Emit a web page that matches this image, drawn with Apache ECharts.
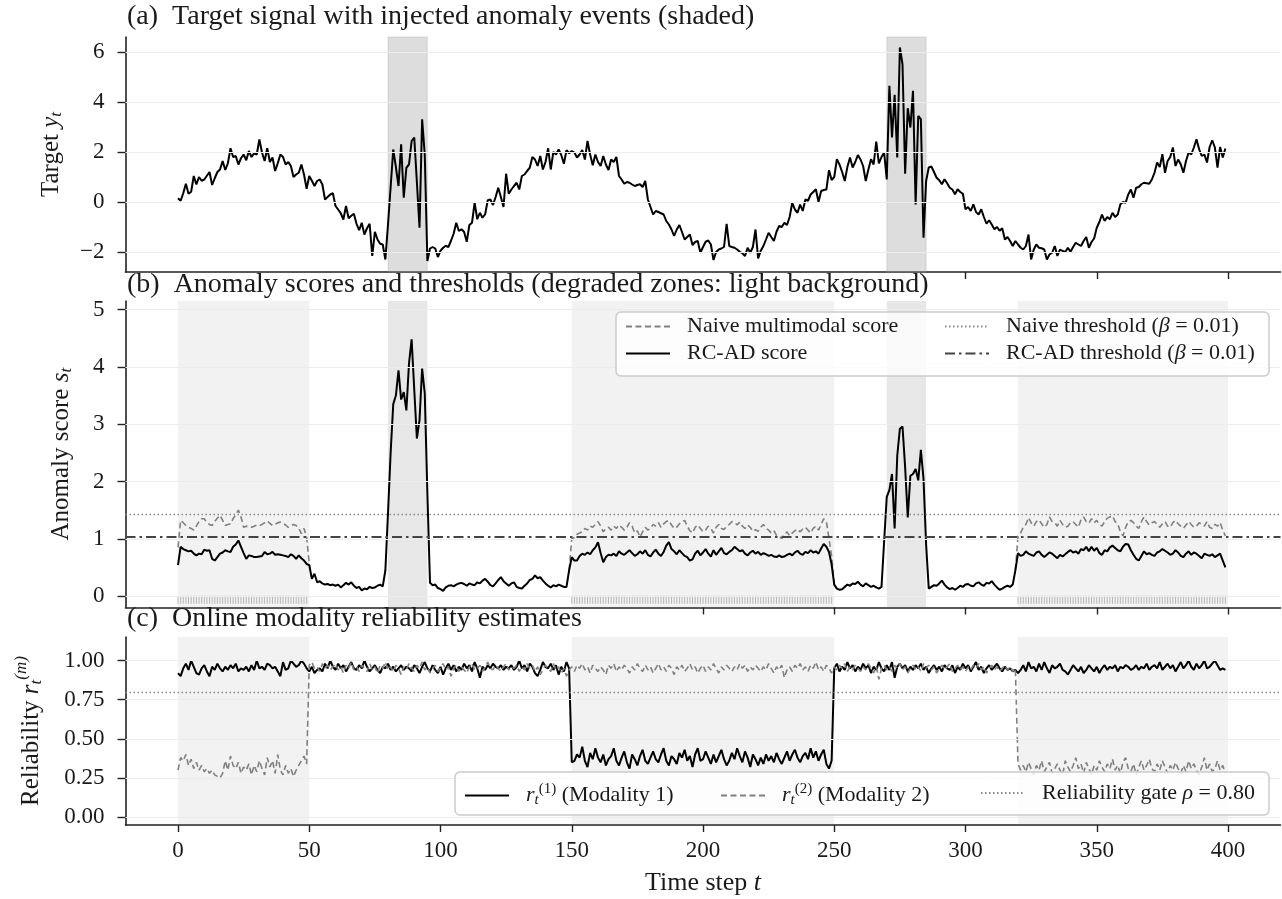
<!DOCTYPE html>
<html>
<head>
<meta charset="utf-8">
<title>RC-AD anomaly detection</title>
<script src="https://cdn.jsdelivr.net/npm/echarts@6/dist/echarts.min.js"></script>
<style>
html, body { margin: 0; padding: 0; background: #fff; }
#chart { width: 1282px; height: 899px; }
</style>
</head>
<body>
<div id="chart"></div>
<script>
// ---- data (t = 0..399) ----
const X_TICKS = [0, 50, 100, 150, 200, 250, 300, 350, 400];
// ticks of the upper panels that are not hidden under the next panel's title
const X_TICKS_A = [300, 350, 400];
const X_TICKS_B = [200, 250, 300, 350, 400];
const Y_TICKS_A = [-2, 0, 2, 4, 6];
const Y_TICKS_B = [0, 1, 2, 3, 4, 5];
const Y_TICKS_C = [0, 0.25, 0.5, 0.75, 1.0];

const ANOMALY_ZONES = [[80, 95], [270, 285]];
const DEGRADED_ZONES = [[0, 50], [150, 250], [320, 400]];

const NAIVE_THRESHOLD = 1.42;
const RCAD_THRESHOLD = 1.03;
const RELIABILITY_GATE = 0.80;
const RUG_LEVEL = -0.065;

const TARGET = [
  0.15, 0.05, 0.35, 0.73, 0.33, 0.41, 1.04, 0.70, 1.00, 0.85,
  0.90, 1.05, 1.20, 0.68, 0.95, 1.20, 1.30, 1.64, 1.28, 1.55,
  2.15, 1.80, 1.84, 1.50, 1.75, 1.90, 1.67, 2.04, 1.80, 1.95,
  1.90, 2.50, 1.98, 1.64, 2.15, 1.60, 1.78, 1.24, 1.55, 1.90,
  1.80, 1.50, 1.60, 1.44, 1.00, 1.10, 1.17, 1.50, 1.10, 0.53,
  1.04, 0.85, 0.64, 0.84, 0.90, 0.70, 0.10, 0.20, 0.30, 0.35,
  -0.16, -0.30, -0.45, -0.70, -0.16, -0.65, -0.55, -0.47, -0.87, -1.13,
  -0.83, -1.30, -1.05, -0.87, -2.16, -1.19, -1.50, -1.67, -1.70, -2.30,
  -0.90, 0.60, 2.10, 1.40, 0.64, 2.31, 0.17, 1.37, 1.50, 2.44,
  2.58, 0.80, -1.03, 3.31, 1.90, -2.36, -1.86, -1.80, -1.86, -2.20,
  -1.95, -1.83, -1.75, -1.80, -1.55, -1.27, -0.83, -1.16, -1.09, -1.20,
  -1.59, -0.92, -0.83, -0.03, -0.69, -0.43, -0.63, -0.49, 0.07, 0.10,
  -0.12, 0.20, 0.57, 0.20, -0.20, 1.13, 0.33, 0.50, 0.64, 0.77,
  0.50, 1.04, 1.10, 1.24, 1.37, 1.80, 1.70, 1.44, 1.84, 1.30,
  1.60, 2.15, 1.30, 2.00, 1.90, 2.10, 1.88, 1.53, 2.07, 1.95,
  2.04, 1.98, 1.78, 1.90, 2.08, 1.70, 2.44, 1.90, 1.47, 1.90,
  1.60, 1.44, 1.84, 1.50, 1.28, 1.70, 1.60, 1.80, 1.04, 0.90,
  0.73, 0.80, 0.77, 0.70, 0.64, 0.68, 0.71, 0.60, 0.84, 0.10,
  -0.20, -0.50, -0.36, -0.40, -0.45, -0.50, -0.76, -0.90, -1.10, -1.36,
  -1.10, -0.92, -1.20, -1.50, -1.40, -1.30, -1.72, -1.60, -1.56, -2.03,
  -1.80, -1.59, -1.54, -1.70, -2.32, -2.00, -1.90, -1.86, -1.80, -0.87,
  -1.76, -1.80, -1.83, -1.90, -1.99, -2.05, -2.16, -1.83, -2.03, -1.80,
  -1.10, -2.26, -1.95, -1.76, -1.50, -1.23, -1.40, -1.56, -1.19, -0.96,
  -1.00, -0.83, -0.92, -0.60, -0.03, -0.30, -0.43, -0.10, -0.36, 0.10,
  0.05, 0.30, 0.40, 0.51, 0.00, 0.44, 0.48, 0.50, 1.27, 0.88,
  1.00, 1.71, 1.50, 1.20, 0.84, 1.40, 1.78, 1.38, 1.60, 1.88,
  1.70, 1.44, 0.84, 1.30, 1.71, 1.50, 2.42, 1.54, 1.80, 1.98,
  0.90, 4.65, 2.58, 4.29, 1.78, 6.18, 5.51, 1.13, 3.75, 2.98,
  4.45, -0.10, 3.44, 3.31, -1.43, 0.84, 1.38, 1.42, 1.20, 0.97,
  0.87, 0.71, 0.91, 0.75, 0.57, 0.50, 0.31, 0.51, 0.40, 0.33,
  -0.29, -0.20, -0.36, -0.09, -0.40, -0.50, -0.29, -0.60, -0.87, -0.73,
  -0.90, -1.09, -1.00, -1.15, -1.05, -1.50, -1.40, -1.56, -1.76, -1.56,
  -1.70, -1.83, -1.90, -1.76, -1.30, -2.30, -1.90, -1.70, -1.83, -1.85,
  -1.90, -2.30, -2.10, -2.03, -1.76, -2.16, -1.90, -1.96, -2.00, -1.83,
  -1.99, -1.80, -1.63, -1.70, -1.76, -1.56, -1.40, -1.83, -1.60, -1.46,
  -1.03, -0.80, -0.50, -0.76, -0.60, -0.69, -0.43, -0.60, -0.50, -0.09,
  0.00, -0.03, 0.30, 0.50, 0.17, 0.57, 0.60, 0.71, 0.77, 0.75,
  0.73, 0.90, 1.17, 1.58, 1.40, 1.91, 1.17, 1.64, 1.80, 2.18,
  1.44, 1.70, 1.51, 1.17, 1.64, 1.98, 1.90, 2.18, 2.51, 2.11,
  1.84, 1.90, 1.58, 2.20, 2.47, 2.18, 1.38, 2.20, 1.78, 2.14
];

const RCAD_SCORE = [
  0.54, 0.86, 0.82, 0.80, 0.78, 0.79, 0.74, 0.71, 0.74, 0.73,
  0.81, 0.79, 0.80, 0.65, 0.62, 0.68, 0.74, 0.76, 0.80, 0.78,
  0.77, 0.86, 0.90, 0.97, 0.86, 0.75, 0.65, 0.71, 0.70, 0.68,
  0.68, 0.69, 0.70, 0.77, 0.73, 0.74, 0.77, 0.72, 0.73, 0.72,
  0.71, 0.70, 0.68, 0.73, 0.70, 0.65, 0.71, 0.66, 0.62, 0.56,
  0.54, 0.30, 0.39, 0.24, 0.26, 0.22, 0.20, 0.21, 0.19, 0.20,
  0.18, 0.20, 0.15, 0.19, 0.23, 0.20, 0.24, 0.18, 0.14, 0.16,
  0.10, 0.13, 0.12, 0.16, 0.14, 0.15, 0.18, 0.20, 0.17, 0.45,
  1.45, 2.50, 3.35, 3.50, 3.94, 3.43, 3.56, 3.24, 4.06, 4.48,
  3.60, 2.75, 3.07, 3.97, 3.54, 1.80, 0.23, 0.19, 0.20, 0.14,
  0.12, 0.09, 0.15, 0.18, 0.19, 0.17, 0.20, 0.22, 0.23, 0.21,
  0.18, 0.22, 0.20, 0.19, 0.24, 0.22, 0.27, 0.30, 0.25, 0.19,
  0.17, 0.22, 0.28, 0.33, 0.26, 0.22, 0.18, 0.22, 0.24, 0.16,
  0.14, 0.13, 0.18, 0.22, 0.28, 0.30, 0.36, 0.31, 0.33, 0.27,
  0.22, 0.18, 0.15, 0.19, 0.17, 0.20, 0.18, 0.16, 0.16, 0.45,
  0.68, 0.62, 0.62, 0.70, 0.74, 0.72, 0.76, 0.73, 0.80, 0.85,
  0.94, 0.75, 0.59, 0.68, 0.72, 0.71, 0.74, 0.70, 0.78, 0.74,
  0.72, 0.76, 0.80, 0.75, 0.70, 0.73, 0.78, 0.74, 0.80, 0.72,
  0.69, 0.76, 0.81, 0.74, 0.70, 0.77, 0.88, 0.94, 0.82, 0.78,
  0.73, 0.80, 0.75, 0.70, 0.68, 0.62, 0.64, 0.74, 0.79, 0.71,
  0.76, 0.82, 0.74, 0.69, 0.80, 0.72, 0.78, 0.84, 0.75, 0.73,
  0.77, 0.80, 0.86, 0.82, 0.78, 0.80, 0.74, 0.71, 0.76, 0.79,
  0.74, 0.77, 0.72, 0.75, 0.73, 0.70, 0.72, 0.69, 0.68, 0.71,
  0.68, 0.69, 0.72, 0.74, 0.71, 0.76, 0.79, 0.74, 0.72, 0.77,
  0.75, 0.80, 0.76, 0.78, 0.74, 0.83, 0.91, 0.86, 0.77, 0.55,
  0.20, 0.13, 0.11, 0.12, 0.16, 0.20, 0.18, 0.22, 0.21, 0.25,
  0.20, 0.17, 0.22, 0.19, 0.16, 0.18, 0.15, 0.13, 0.16, 0.95,
  1.73, 1.85, 2.13, 1.18, 2.45, 2.92, 2.96, 2.25, 1.37, 2.10,
  2.13, 2.22, 2.02, 2.55, 2.05, 0.90, 0.13, 0.16, 0.19, 0.18,
  0.22, 0.27, 0.20, 0.15, 0.12, 0.14, 0.11, 0.14, 0.18, 0.16,
  0.20, 0.21, 0.18, 0.17, 0.22, 0.24, 0.20, 0.18, 0.23, 0.22,
  0.26, 0.20, 0.15, 0.11, 0.13, 0.16, 0.18, 0.16, 0.20, 0.45,
  0.75, 0.70, 0.72, 0.78, 0.74, 0.72, 0.70, 0.76, 0.78, 0.72,
  0.68, 0.72, 0.76, 0.74, 0.70, 0.66, 0.72, 0.69, 0.73, 0.77,
  0.80, 0.76, 0.78, 0.74, 0.82, 0.80, 0.86, 0.78, 0.86, 0.79,
  0.84, 0.75, 0.72, 0.80, 0.78, 0.85, 0.88, 0.84, 0.80, 0.78,
  0.86, 0.91, 0.90, 0.80, 0.72, 0.65, 0.62, 0.70, 0.78, 0.73,
  0.75, 0.72, 0.70, 0.76, 0.78, 0.82, 0.79, 0.76, 0.72, 0.74,
  0.80, 0.76, 0.70, 0.68, 0.74, 0.78, 0.72, 0.76, 0.74, 0.70,
  0.66, 0.74, 0.72, 0.70, 0.73, 0.68, 0.71, 0.74, 0.62, 0.50
];

// naive score only differs from RC-AD inside degraded zones (elsewhere hidden under it)
const NAIVE_SEG_STARTS = [0, 149, 319];
const NAIVE_SEG_1 = [
  0.85, 1.32, 1.28, 1.23, 1.20, 1.18, 1.15, 1.22, 1.30, 1.35,
  1.35, 1.28, 1.25, 1.23, 1.30, 1.36, 1.41, 1.32, 1.23, 1.25,
  1.26, 1.35, 1.42, 1.50, 1.38, 1.20, 1.22, 1.21, 1.20, 1.22,
  1.24, 1.23, 1.25, 1.28, 1.31, 1.27, 1.23, 1.25, 1.28, 1.29,
  1.27, 1.24, 1.20, 1.22, 1.25, 1.23, 1.18, 1.09, 1.18, 1.03,
  0.57, 0.30
];
const NAIVE_SEG_2 = [
  0.45,
  1.00, 1.02, 1.08, 1.10, 1.12, 1.18, 1.15, 1.22, 1.20, 1.25,
  1.30, 1.22, 1.12, 1.18, 1.20, 1.15, 1.22, 1.18, 1.24, 1.20,
  1.15, 1.20, 1.28, 1.22, 1.10, 1.14, 1.03, 1.12, 1.20, 1.15,
  1.18, 1.25, 1.22, 1.28, 1.20, 1.26, 1.30, 1.32, 1.24, 1.18,
  1.20, 1.26, 1.30, 1.32, 1.22, 1.14, 1.10, 1.20, 1.24, 1.18,
  1.12, 1.15, 1.22, 1.18, 1.10, 1.20, 1.25, 1.18, 1.16, 1.22,
  1.25, 1.30, 1.29, 1.24, 1.29, 1.22, 1.18, 1.24, 1.20, 1.13,
  1.16, 1.13, 1.20, 1.25, 1.18, 1.15, 1.10, 1.14, 1.06, 1.05,
  1.00, 1.08, 1.12, 1.05, 1.10, 1.14, 1.17, 1.12, 1.17, 1.20,
  1.15, 1.10, 1.18, 1.22, 1.15, 1.25, 1.35, 1.30, 1.00, 0.70,
  0.20, 0.13
];
const NAIVE_SEG_3 = [
  0.45,
  1.05, 1.10, 1.20, 1.25, 1.37, 1.28, 1.22, 1.30, 1.33, 1.26,
  1.20, 1.25, 1.38, 1.30, 1.28, 1.22, 1.32, 1.25, 1.20, 1.22,
  1.28, 1.30, 1.25, 1.20, 1.33, 1.38, 1.30, 1.27, 1.35, 1.28,
  1.32, 1.25, 1.22, 1.30, 1.36, 1.38, 1.40, 1.30, 1.26, 1.12,
  1.05, 1.20, 1.30, 1.32, 1.28, 1.22, 1.18, 1.30, 1.38, 1.30,
  1.24, 1.28, 1.30, 1.25, 1.20, 1.26, 1.30, 1.22, 1.20, 1.28,
  1.32, 1.26, 1.22, 1.18, 1.24, 1.30, 1.25, 1.20, 1.22, 1.28,
  1.25, 1.22, 1.30, 1.20, 1.18, 1.25, 1.22, 1.28, 1.15, 1.05
];

const RELIABILITY_M1 = [
  0.92, 0.90, 0.95, 0.98, 0.94, 1.00, 0.96, 0.92, 0.91, 0.95,
  0.97, 0.93, 0.90, 0.96, 0.94, 0.98, 0.95, 0.93, 0.96, 0.94,
  0.97, 0.95, 0.98, 0.93, 0.95, 0.94, 0.96, 0.93, 0.97, 0.94,
  1.00, 0.95, 0.96, 0.94, 0.98, 0.97, 0.95, 0.96, 0.93, 0.90,
  0.99, 0.94, 0.95, 1.00, 0.98, 0.96, 0.97, 1.00, 0.98, 0.95,
  0.93, 0.96, 0.92, 0.94, 0.95, 0.93, 0.98, 0.95, 1.00, 0.96,
  0.94, 0.98, 0.95, 0.97, 0.93, 0.96, 0.99, 0.95, 0.94, 0.97,
  0.95, 1.00, 0.96, 0.93, 0.95, 0.97, 0.94, 0.92, 0.96, 0.95,
  0.98, 0.94, 0.96, 0.93, 0.95, 0.97, 0.94, 0.96, 0.95, 0.93,
  0.97, 0.95, 0.92, 0.96, 0.99, 0.95, 0.93, 0.97, 0.94, 0.92,
  0.96, 0.91, 0.95, 0.98, 0.94, 0.97, 0.93, 0.96, 0.94, 0.98,
  0.95, 0.97, 0.93, 0.99, 0.95, 0.89, 0.96, 0.94, 0.97, 0.95,
  0.98, 0.96, 0.95, 0.97, 0.94, 0.96, 0.95, 0.97, 0.94, 0.96,
  1.00, 0.95, 0.97, 0.93, 0.98, 0.96, 0.92, 0.90, 0.94, 0.99,
  0.96, 0.95, 0.98, 0.94, 0.97, 0.91, 0.96, 0.93, 0.99, 0.95,
  0.35, 0.36, 0.40, 0.38, 0.45, 0.36, 0.32, 0.41, 0.37, 0.44,
  0.38, 0.35, 0.40, 0.33, 0.37, 0.39, 0.44, 0.36, 0.33, 0.38,
  0.42, 0.35, 0.31, 0.40, 0.37, 0.33, 0.39, 0.43, 0.36, 0.34,
  0.38, 0.42, 0.37, 0.35, 0.40, 0.44, 0.36, 0.33, 0.39, 0.37,
  0.34, 0.41, 0.38, 0.43, 0.36, 0.39, 0.32, 0.40, 0.44, 0.36,
  0.37, 0.42, 0.38, 0.34, 0.40, 0.35, 0.39, 0.43, 0.37, 0.33,
  0.36, 0.41, 0.37, 0.44, 0.39, 0.35, 0.42, 0.38, 0.32, 0.40,
  0.37, 0.33, 0.38, 0.34, 0.40, 0.36, 0.39, 0.35, 0.41, 0.37,
  0.34, 0.38, 0.42, 0.36, 0.40, 0.43, 0.38, 0.35, 0.39, 0.41,
  0.37, 0.44, 0.38, 0.42, 0.36, 0.40, 0.43, 0.34, 0.31, 0.36,
  0.95, 0.98, 0.93, 0.96, 0.94, 0.99, 0.95, 0.97, 0.93, 0.96,
  0.94, 0.98, 0.95, 0.97, 0.92, 0.96, 0.94, 0.99, 0.95, 0.93,
  0.97, 0.94, 0.99, 0.89, 0.96, 0.98, 0.95, 0.97, 0.93, 0.96,
  0.94, 0.97, 0.95, 0.98, 0.94, 0.96, 0.92, 0.95, 0.97, 0.94,
  0.96, 0.93, 0.97, 0.95, 0.94, 0.97, 0.92, 0.96, 0.94, 0.98,
  0.95, 0.97, 0.93, 0.96, 0.99, 0.94, 0.96, 0.92, 0.95, 0.97,
  0.94, 0.96, 0.98, 0.95, 0.93, 0.96, 0.94, 0.95, 0.93, 0.94,
  0.92, 0.94, 0.97, 0.93, 0.99, 0.95, 0.96, 0.93, 0.98, 0.94,
  0.99, 0.95, 0.92, 0.97, 0.95, 0.96, 0.98, 0.94, 0.93, 0.91,
  0.94, 0.97, 0.95, 0.93, 0.96, 0.92, 0.94, 0.97, 0.95, 0.93,
  0.96, 0.92, 0.95, 0.97, 0.94, 0.96, 0.95, 0.97, 0.93, 0.96,
  0.95, 0.97, 0.96, 0.94, 0.95, 0.97, 0.94, 0.96, 0.95, 0.98,
  0.94, 0.96, 0.97, 0.95, 0.99, 0.94, 0.96, 0.98, 0.95, 0.97,
  0.93, 0.96, 0.99, 0.95, 0.97, 1.00, 0.96, 0.94, 0.98, 0.95,
  0.97, 1.00, 0.95, 0.96, 0.98, 1.00, 0.97, 0.94, 0.95, 0.94
];

const RELIABILITY_M2 = [
  0.30, 0.38, 0.36, 0.40, 0.33, 0.37, 0.31, 0.35, 0.30, 0.33,
  0.29, 0.31, 0.28, 0.30, 0.27, 0.26, 0.25, 0.28, 0.36, 0.30,
  0.39, 0.33, 0.31, 0.35, 0.28, 0.32, 0.30, 0.34, 0.27, 0.33,
  0.29, 0.36, 0.31, 0.27, 0.38, 0.32, 0.36, 0.28, 0.40, 0.30,
  0.27, 0.33, 0.28, 0.31, 0.26, 0.30, 0.33, 0.36, 0.39, 0.34,
  0.97, 0.99, 0.95, 0.96, 0.93, 0.98, 0.95, 0.97, 0.94, 0.96,
  0.98, 0.94, 0.96, 0.92, 0.97, 0.95, 0.99, 0.94, 0.96, 0.93,
  0.97, 0.95, 0.93, 0.98, 0.94, 0.96, 0.92, 0.97, 0.95, 0.99,
  0.94, 0.96, 0.93, 0.97, 0.95, 0.91, 0.96, 0.94, 0.98, 0.95,
  0.93, 0.97, 0.95, 0.99, 0.94, 0.96, 0.92, 0.95, 0.97, 0.93,
  0.95, 0.98, 0.94, 0.96, 0.90, 0.95, 0.97, 0.93, 0.96, 0.94,
  0.92, 0.96, 0.98, 0.94, 0.95, 0.97, 0.93, 0.96, 0.99, 0.95,
  0.94, 0.97, 0.95, 0.93, 0.96, 0.98, 0.94, 0.96, 0.95, 0.97,
  0.93, 0.96, 0.94, 0.98, 0.95, 0.97, 0.93, 0.96, 0.91, 0.94,
  0.97, 0.95, 0.93, 0.98, 0.94, 0.96, 0.92, 0.95, 0.90, 0.94,
  0.96, 0.93, 0.97, 0.95, 0.98, 0.94, 0.96, 0.92, 0.97, 0.95,
  0.93, 0.96, 0.94, 0.91, 0.97, 0.95, 0.98, 0.93, 0.96, 0.94,
  0.97, 0.95, 0.92, 0.96, 0.94, 0.98, 0.95, 0.93, 0.97, 0.94,
  0.96, 0.92, 0.95, 0.98, 0.94, 0.96, 0.93, 0.97, 0.95, 0.91,
  0.96, 0.94, 0.97, 0.93, 0.95, 0.98, 0.94, 0.96, 0.92, 0.95,
  0.97, 0.93, 0.96, 0.94, 0.98, 0.95, 0.92, 0.96, 0.94, 0.97,
  0.95, 0.93, 0.96, 0.94, 0.98, 0.95, 0.97, 0.93, 0.96, 0.94,
  0.97, 0.95, 0.93, 0.96, 0.94, 0.98, 0.95, 0.92, 0.96, 0.94,
  0.97, 0.89, 0.94, 0.96, 0.93, 0.97, 0.95, 0.98, 0.94, 0.96,
  0.93, 0.97, 0.95, 0.99, 0.94, 0.96, 0.93, 0.97, 0.95, 0.92,
  0.96, 0.94, 0.97, 0.95, 0.98, 0.93, 0.96, 0.94, 0.97, 0.95,
  0.93, 0.96, 0.94, 0.98, 0.95, 0.92, 0.96, 0.88, 0.95, 0.97,
  0.94, 0.96, 0.93, 0.97, 0.95, 0.98, 0.94, 0.96, 0.92, 0.95,
  0.97, 0.94, 0.96, 0.93, 0.98, 0.95, 0.97, 0.94, 0.96, 0.92,
  0.95, 0.97, 0.94, 0.96, 0.98, 0.93, 0.95, 0.97, 0.94, 0.96,
  0.93, 0.96, 0.94, 0.97, 0.95, 0.98, 0.94, 0.96, 0.92, 0.95,
  0.97, 0.94, 0.96, 0.93, 0.95, 0.97, 0.94, 0.96, 0.93, 0.95,
  0.34, 0.30, 0.33, 0.29, 0.35, 0.31, 0.27, 0.33, 0.30, 0.36,
  0.29, 0.32, 0.35, 0.28, 0.31, 0.34, 0.30, 0.27, 0.36, 0.32,
  0.29, 0.33, 0.38, 0.31, 0.34, 0.28, 0.35, 0.31, 0.27, 0.33,
  0.30, 0.36, 0.32, 0.29, 0.34, 0.31, 0.37, 0.30, 0.33, 0.28,
  0.35, 0.38, 0.31, 0.29, 0.34, 0.27, 0.32, 0.36, 0.30, 0.33,
  0.37, 0.31, 0.29, 0.34, 0.30, 0.36, 0.32, 0.28, 0.33, 0.30,
  0.35, 0.31, 0.28, 0.33, 0.29, 0.36, 0.31, 0.34, 0.30, 0.27,
  0.32, 0.38, 0.30, 0.34, 0.29, 0.31, 0.36, 0.30, 0.33, 0.28
];

// ---- styling ----
const FONT = 'Liberation Serif';
const INK = '#1a1a1a';
const GRAY = '#808080';
const X_MIN = -20, X_MAX = 420;

function pairs(values, start) {
  return values.map((v, i) => [start + i, v]);
}

function naiveData() {
  const segs = [NAIVE_SEG_1, NAIVE_SEG_2, NAIVE_SEG_3];
  let out = [];
  segs.forEach((seg, k) => {
    if (k > 0) out.push([NAIVE_SEG_STARTS[k] - 0.5, null]);
    out = out.concat(pairs(seg, NAIVE_SEG_STARTS[k]));
  });
  return out;
}

function rugData() {
  const out = [];
  DEGRADED_ZONES.forEach(z => {
    for (let t = z[0]; t < z[1]; t++) out.push([t, RUG_LEVEL]);
  });
  return out;
}

function zoneAreas(zones, color) {
  return zones.map(z => [{ xAxis: z[0], itemStyle: { color: color } }, { xAxis: z[1] }]);
}

function gridLines(ticks) {
  return {
    silent: true, symbol: ['none', 'none'], label: { show: false },
    lineStyle: { color: '#ececec', width: 1, type: 'solid' },
    data: ticks.map(v => ({ yAxis: v }))
  };
}

function xAxisFor(i, ticks) {
  return {
    type: 'value', gridIndex: i, min: X_MIN, max: X_MAX,
    axisLine: { show: true, onZero: false, lineStyle: { color: '#222', width: 1.6 } },
    axisTick: { show: true, customValues: ticks, length: 7, lineStyle: { color: '#222', width: 1.4 } },
    axisLabel: {
      show: i === 2, customValues: ticks, margin: 14,
      fontFamily: FONT, fontSize: 23, color: INK
    },
    splitLine: { show: false },
    name: i === 2 ? 'Time step {i|t}' : '',
    nameLocation: 'middle', nameGap: 45,
    nameTextStyle: {
      fontFamily: FONT, fontSize: 26, color: INK,
      rich: { i: { fontFamily: FONT, fontSize: 26, fontStyle: 'italic', color: INK } }
    }
  };
}

const NAME_RICH = {
  i: { fontFamily: FONT, fontSize: 25, fontStyle: 'italic', color: INK },
  sub: { fontFamily: FONT, fontSize: 17, fontStyle: 'italic', color: INK, padding: [12, 0, 0, 0] },
  sup: { fontFamily: FONT, fontSize: 17, fontStyle: 'italic', color: INK, padding: [0, 0, 18, 0] }
};

function yAxisFor(i, min, max, ticks, fmt, name, gap) {
  return {
    type: 'value', gridIndex: i, min: min, max: max,
    axisLine: { show: true, onZero: false, lineStyle: { color: '#222', width: 1.6 } },
    axisTick: { show: true, customValues: ticks, length: 8, lineStyle: { color: '#222', width: 1.4 } },
    axisLabel: { customValues: ticks, formatter: fmt, margin: 21, fontFamily: FONT, fontSize: 23, color: INK },
    splitLine: { show: false },
    name: name, nameLocation: 'middle', nameRotate: 90, nameGap: gap,
    nameTextStyle: { fontFamily: FONT, fontSize: 25, color: INK, rich: NAME_RICH }
  };
}

const fmtSigned = v => (v < 0 ? '\u2212' + Math.abs(v) : String(v));
const fmtFixed = v => v.toFixed(2);

const LEGEND_RICH = {
  i: { fontFamily: FONT, fontSize: 22, fontStyle: 'italic', color: INK },
  sub: { fontFamily: FONT, fontSize: 15, fontStyle: 'italic', color: INK, padding: [10, 0, 0, 0] },
  sup: { fontFamily: FONT, fontSize: 15, color: INK, padding: [0, 0, 12, 0] }
};
const LEGEND_TEXT = {
  'Naive multimodal score': 'Naive multimodal score',
  'RC-AD score': 'RC-AD score',
  'Naive threshold': 'Naive threshold ({i|\u03b2} = 0.01)',
  'RC-AD threshold': 'RC-AD threshold ({i|\u03b2} = 0.01)',
  'Modality 1': '{i|r}{sub|t}{sup|(1)} (Modality 1)',
  'Modality 2': '{i|r}{sub|t}{sup|(2)} (Modality 2)',
  'Reliability gate': 'Reliability gate {i|\u03c1} = 0.80'
};

function legendAt(names, left, top) {
  return {
    data: names, left: left, top: top, orient: 'vertical',
    padding: 0, itemGap: 5, itemWidth: 44, itemHeight: 14,
    selectedMode: false, z: 20,
    itemStyle: { opacity: 0, borderWidth: 0 },
    formatter: n => LEGEND_TEXT[n],
    textStyle: { fontFamily: FONT, fontSize: 22, color: INK, padding: [0, 0, 0, 12], rich: LEGEND_RICH }
  };
}

const lineCommon = { type: 'line', symbol: 'none', showSymbol: false, animation: false, sampling: null };

const titleStyle = { fontFamily: FONT, fontSize: 28, fontWeight: 'normal', color: INK, lineHeight: 28 };

const option = {
  backgroundColor: '#fff',
  animation: false,
  grid: [
    { left: 125.5, right: 1.5, top: 37, height: 235, outerBoundsMode: 'none' },
    { left: 125.5, right: 1.5, top: 301, height: 306.5, outerBoundsMode: 'none' },
    { left: 125.5, right: 1.5, top: 637, height: 188, outerBoundsMode: 'none' }
  ],
  title: [
    { text: '(a)  Target signal with injected anomaly events (shaded)', left: 124, top: 3, padding: [0, 3], textStyle: titleStyle },
    { text: '(b)  Anomaly scores and thresholds (degraded zones: light background)', left: 124, top: 271, padding: [0, 3], textStyle: titleStyle },
    { text: '(c)  Online modality reliability estimates', left: 124, top: 605, padding: [0, 3], textStyle: titleStyle }
  ],
  xAxis: [xAxisFor(0, X_TICKS_A), xAxisFor(1, X_TICKS_B), xAxisFor(2, X_TICKS)],
  yAxis: [
    yAxisFor(0, -2.8, 6.6, Y_TICKS_A, fmtSigned, 'Target {i|y}{sub|t}', 60),
    yAxisFor(1, -0.2, 5.15, Y_TICKS_B, fmtSigned, 'Anomaly score {i|s}{sub|t}', 50),
    yAxisFor(2, -0.05, 1.15, Y_TICKS_C, fmtFixed, 'Reliability {i|r}{sub|t}{sup|(m)}', 77)
  ],
  legend: [
    legendAt(['Naive multimodal score', 'RC-AD score'], 625, 315.5),
    legendAt(['Naive threshold', 'RC-AD threshold'], 944, 315.5),
    legendAt(['Modality 1'], 464, 782),
    legendAt(['Modality 2'], 720, 782),
    legendAt(['Reliability gate'], 980, 782)
  ],
  graphic: [
    { type: 'rect', z: 10, shape: { x: 616, y: 312, width: 653, height: 64, r: 5 },
      style: { fill: 'rgba(255,255,255,0.8)', stroke: '#cccccc', lineWidth: 1.5 } },
    { type: 'rect', z: 10, shape: { x: 455, y: 772, width: 814, height: 43, r: 5 },
      style: { fill: 'rgba(255,255,255,0.8)', stroke: '#cccccc', lineWidth: 1.5 } }
  ],
  series: [
    // (a)
    { ...lineCommon, name: 'bg-a', xAxisIndex: 0, yAxisIndex: 0, data: [], z: 0, silent: true,
      markArea: { silent: true, itemStyle: { borderColor: 'rgba(150,150,150,0.18)', borderWidth: 1.5 },
        data: zoneAreas(ANOMALY_ZONES, 'rgba(150,150,150,0.32)') },
      markLine: gridLines(Y_TICKS_A) },
    { ...lineCommon, name: 'Target', xAxisIndex: 0, yAxisIndex: 0, z: 3,
      data: pairs(TARGET, 0), lineStyle: { color: '#000', width: 2 } },

    // (b)
    { ...lineCommon, name: 'bg-b', xAxisIndex: 1, yAxisIndex: 1, data: [], z: 0, silent: true,
      markArea: { silent: true,
        data: zoneAreas(DEGRADED_ZONES, 'rgba(128,128,128,0.1)').concat(zoneAreas(ANOMALY_ZONES, 'rgba(128,128,128,0.19)')) },
      markLine: gridLines(Y_TICKS_B) },
    { type: 'scatter', name: 'rug', xAxisIndex: 1, yAxisIndex: 1, z: 1, silent: true, animation: false,
      symbol: 'rect', symbolSize: [1, 8], itemStyle: { color: '#a8a8a8' }, data: rugData() },
    { ...lineCommon, name: 'Naive multimodal score', xAxisIndex: 1, yAxisIndex: 1, z: 2,
      data: naiveData(), connectNulls: false, itemStyle: { color: GRAY },
      lineStyle: { color: GRAY, width: 1.6, type: [6, 3.5] } },
    { ...lineCommon, name: 'RC-AD score', xAxisIndex: 1, yAxisIndex: 1, z: 3, itemStyle: { color: '#000' },
      data: pairs(RCAD_SCORE, 0), lineStyle: { color: '#000', width: 2 } },
    { ...lineCommon, name: 'Naive threshold', xAxisIndex: 1, yAxisIndex: 1, z: 4, data: [], itemStyle: { color: '#8a8a8a' },
      lineStyle: { color: '#8a8a8a', width: 1.4, type: [1.5, 2.5] },
      markLine: { silent: true, symbol: ['none', 'none'], label: { show: false },
        lineStyle: { color: '#8a8a8a', width: 1.4, type: [1.5, 2.5] }, data: [{ yAxis: NAIVE_THRESHOLD }] } },
    { ...lineCommon, name: 'RC-AD threshold', xAxisIndex: 1, yAxisIndex: 1, z: 4, data: [], itemStyle: { color: '#444' },
      lineStyle: { color: '#444', width: 2, type: [10, 4, 2.5, 4] },
      markLine: { silent: true, symbol: ['none', 'none'], label: { show: false },
        lineStyle: { color: '#444', width: 2, type: [10, 4, 2.5, 4] }, data: [{ yAxis: RCAD_THRESHOLD }] } },

    // (c)
    { ...lineCommon, name: 'bg-c', xAxisIndex: 2, yAxisIndex: 2, data: [], z: 0, silent: true,
      markArea: { silent: true, data: zoneAreas(DEGRADED_ZONES, 'rgba(128,128,128,0.1)') },
      markLine: gridLines(Y_TICKS_C) },
    { ...lineCommon, name: 'Modality 1', xAxisIndex: 2, yAxisIndex: 2, z: 3, itemStyle: { color: '#000' },
      data: pairs(RELIABILITY_M1, 0), lineStyle: { color: '#000', width: 2 } },
    { ...lineCommon, name: 'Modality 2', xAxisIndex: 2, yAxisIndex: 2, z: 4, itemStyle: { color: GRAY },
      data: pairs(RELIABILITY_M2, 0), lineStyle: { color: GRAY, width: 1.6, type: [6, 3.5] } },
    { ...lineCommon, name: 'Reliability gate', xAxisIndex: 2, yAxisIndex: 2, z: 4, data: [], itemStyle: { color: '#8a8a8a' },
      lineStyle: { color: '#8a8a8a', width: 1.4, type: [1.5, 2.5] },
      markLine: { silent: true, symbol: ['none', 'none'], label: { show: false },
        lineStyle: { color: '#8a8a8a', width: 1.4, type: [1.5, 2.5] }, data: [{ yAxis: RELIABILITY_GATE }] } }
  ]
};

const chart = echarts.init(document.getElementById('chart'));
chart.setOption(option);
window.addEventListener('resize', chart.resize);
</script>
</body>
</html>
